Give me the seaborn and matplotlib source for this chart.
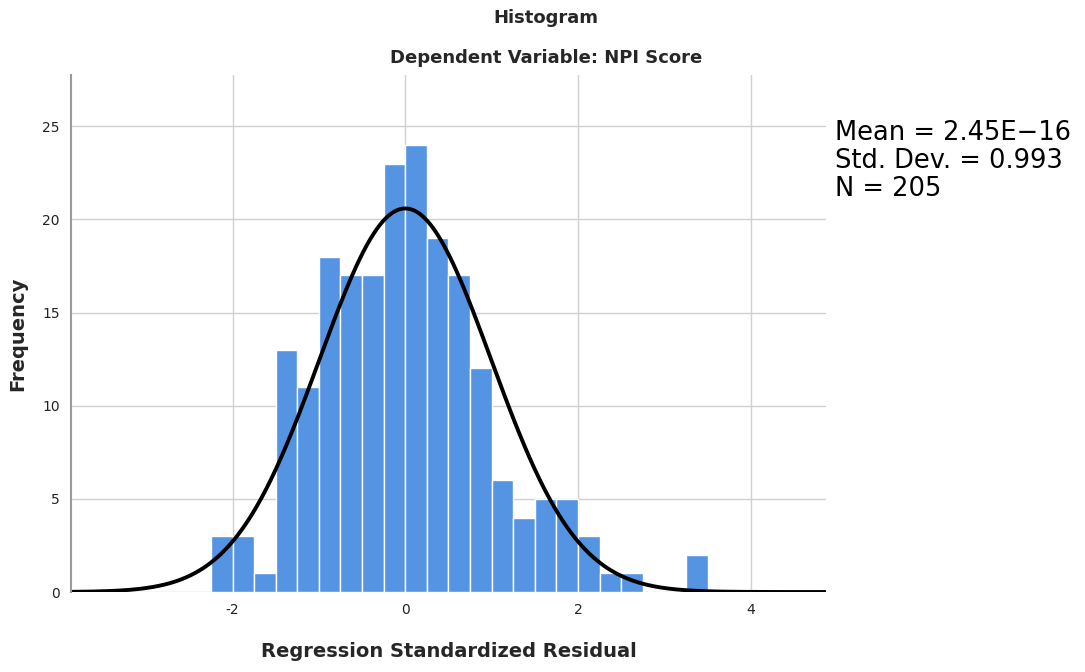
import numpy as np
import pandas as pd
import matplotlib
matplotlib.use("Agg")
import matplotlib.pyplot as plt
import seaborn as sns

# Histogram bins (left edges, width 0.25) and frequencies
bin_left = [-2.25, -2.0, -1.75, -1.5, -1.25, -1.0, -0.75, -0.5, -0.25, 0.0,
            0.25, 0.5, 0.75, 1.0, 1.25, 1.5, 1.75, 2.0, 2.25, 2.5, 2.75, 3.0, 3.25]
counts = [3, 3, 1, 13, 11, 18, 17, 17, 23, 24,
          19, 17, 12, 6, 4, 5, 5, 3, 1, 1, 0, 0, 2]
bin_width = 0.25
mean_val = 2.45e-16
std_val = 0.993
n_val = 205
x_ticks = [-2, 0, 2, 4]
y_ticks = [0, 5, 10, 15, 20, 25]

sns.set_theme(style="white")
plt.rcParams['font.family'] = ['DejaVu Sans']
cond = ['DejaVu Sans']

edges = list(bin_left) + [bin_left[-1] + bin_width]
centers = [b + bin_width / 2 for b in bin_left]
df = pd.DataFrame({"x": centers, "w": counts})

fig = plt.figure(figsize=(10.85, 6.72), dpi=100)
ax = fig.add_axes([0.0654, 0.119, 0.6959, 0.7693])

ax.set_axisbelow(True)
ax.grid(True, color="#d0d0d0", linewidth=1.0)
sns.histplot(data=df, x="x", weights="w", bins=edges, ax=ax,
             color="#5594E2", alpha=1.0, edgecolor="white", linewidth=1.0)

xs = np.linspace(-3.87, 4.87, 600)
pdf = n_val * bin_width / (std_val * np.sqrt(2 * np.pi)) * np.exp(-0.5 * ((xs - mean_val) / std_val) ** 2)
sns.lineplot(x=xs, y=pdf, ax=ax, color="black", linewidth=2.8)

ax.set_xlim(-3.87, 4.87)
ax.set_ylim(0, 27.75)
ax.set_xticks(x_ticks)
ax.set_yticks(y_ticks)
ax.set_xticklabels([str(t) for t in x_ticks], family=cond, fontsize=10, color="#222222")
ax.set_yticklabels([str(t) for t in y_ticks], family=cond, fontsize=10, color="#222222")
ax.tick_params(axis='both', length=0, pad=8)

for s in ["top", "right", "bottom"]:
    ax.spines[s].set_visible(False)
ax.spines["left"].set_color("#999999")
ax.spines["left"].set_linewidth(1.5)

ax.set_xlabel("Regression Standardized Residual", family=cond, fontsize=14, fontweight="bold", labelpad=18)
ax.set_ylabel("Frequency", family=cond, fontsize=14, fontweight="bold", labelpad=11)

fig.text(0.503, 0.973, "Histogram", ha="center", va="center", family=cond, fontsize=13, fontweight="bold")
fig.text(0.503, 0.914, "Dependent Variable: NPI Score", ha="center", va="center", family=cond, fontsize=13, fontweight="bold")

stats = f"Mean = 2.45E\u221216\nStd. Dev. = {std_val:.3f}\nN = {n_val}"
fig.text(0.770, 0.822, stats, ha="left", va="top", fontsize=18.5, linespacing=1.1, color="black")

fig.savefig("out.png", dpi=100)
